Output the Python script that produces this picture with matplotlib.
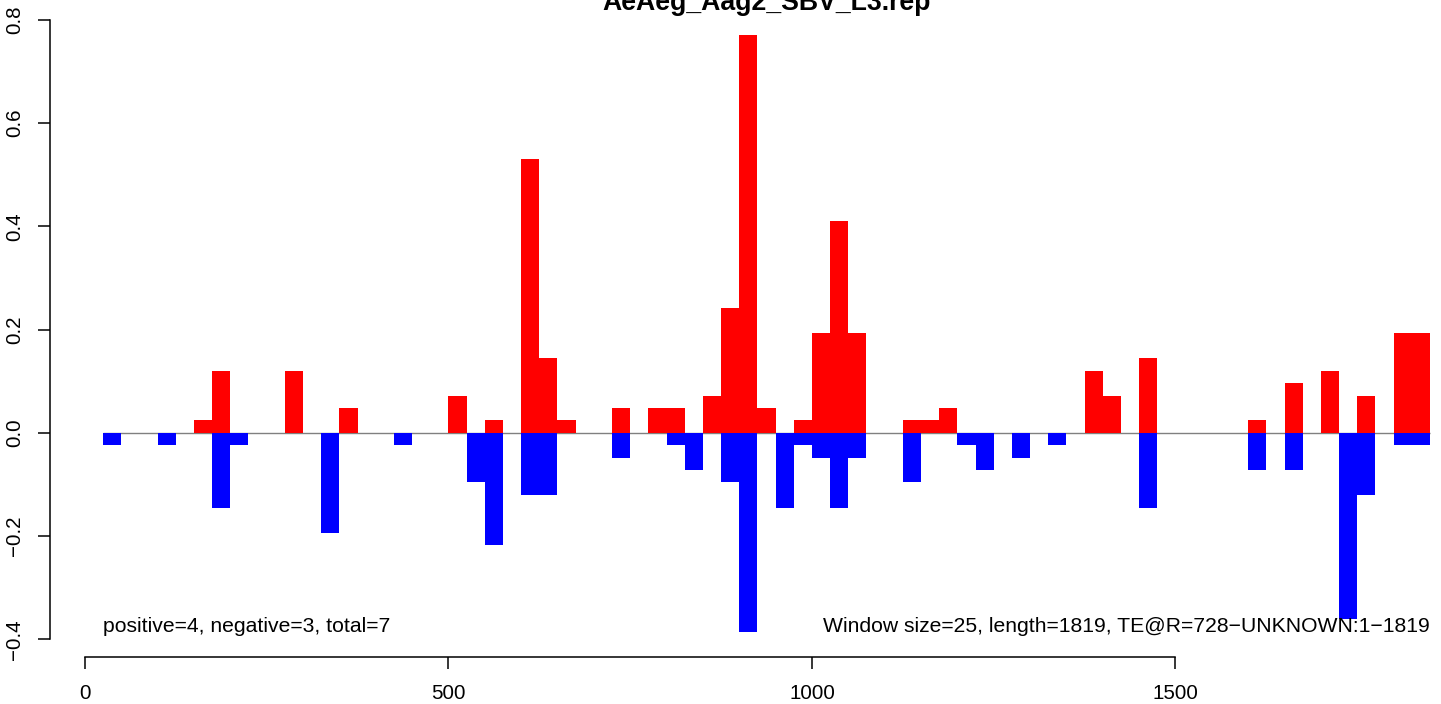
import matplotlib
matplotlib.use("Agg")
import matplotlib.pyplot as plt
import numpy as np

plt.rcParams['font.family'] = ['Liberation Sans', 'DejaVu Sans']

# window data (window size 25, windows numbered 1..73)
window = 25
starts = window * np.arange(1, 74)

positive = [
    0, 0, 0, 0, 0, 0.024, 0.120, 0, 0, 0,
    0.120, 0, 0, 0.048, 0, 0, 0, 0, 0, 0.072,
    0, 0.024, 0, 0.530, 0.145, 0.024, 0, 0, 0.048, 0,
    0.048, 0.048, 0, 0.072, 0.241, 0.771, 0.048, 0, 0.024, 0.193,
    0.410, 0.193, 0, 0, 0.024, 0.024, 0.048, 0, 0, 0,
    0, 0, 0, 0, 0.120, 0.072, 0, 0.145, 0, 0,
    0, 0, 0, 0.024, 0, 0.096, 0, 0.120, 0, 0.072,
    0, 0.193, 0.193,
]
negative = [
    -0.024, 0, 0, -0.024, 0, 0, -0.145, -0.024, 0, 0,
    0, 0, -0.193, 0, 0, 0, -0.024, 0, 0, 0,
    -0.096, -0.217, 0, -0.120, -0.120, 0, 0, 0, -0.048, 0,
    0, -0.024, -0.072, 0, -0.096, -0.386, 0, -0.145, -0.024, -0.048,
    -0.145, -0.048, 0, 0, -0.096, 0, 0, -0.024, -0.072, 0,
    -0.048, 0, -0.024, 0, 0, 0, 0, -0.145, 0, 0,
    0, 0, 0, -0.072, 0, -0.072, 0, 0, -0.361, -0.120,
    0, -0.024, -0.024,
]

title = "AeAeg_Aag2_SBV_L3.rep"
left_note = "positive=4, negative=3, total=7"
right_note = "Window size=25, length=1819, TE@R=728\u2212UNKNOWN:1\u22121819"
xticks = [0, 500, 1000, 1500]
yticks = [-0.4, -0.2, 0.0, 0.2, 0.4, 0.6, 0.8]

fig = plt.figure(figsize=(14.41, 7.04), dpi=100)
# plot region runs past the right/top edge (image was cropped)
ax = fig.add_axes([50 / 1441, 47 / 704, 1433 / 1441, 646 / 704])

ax.hlines(0, starts[0], starts[-1] + window, color='#808080', lw=1, zorder=1)
ax.bar(starts, positive, width=window, align='edge', color='red', linewidth=0, zorder=2)
ax.bar(starts, negative, width=window, align='edge', color='blue', linewidth=0, zorder=2)

ax.set_xlim(-48, 1923)
ax.set_ylim(-0.434, 0.817)

for s in ['top', 'right']:
    ax.spines[s].set_visible(False)
ax.spines['left'].set_bounds(yticks[0], yticks[-1])
ax.spines['bottom'].set_bounds(xticks[0], xticks[-1])
for s in ['left', 'bottom']:
    ax.spines[s].set_linewidth(1.1)

ax.set_xticks(xticks)
ax.set_xticklabels([str(v) for v in xticks])
ax.set_yticks(yticks)
ax.set_yticklabels([f"{v:.1f}".replace('-', '\u2212') for v in yticks],
                   rotation=90, va='center')
ax.tick_params(axis='both', length=8.6, width=1.1, labelsize=14.8)
ax.tick_params(axis='x', pad=11)
ax.tick_params(axis='y', pad=10)

ax.text(starts[0], -0.385, left_note, ha='left', va='baseline', fontsize=15.2)
ax.text(starts[-1] + window, -0.385, right_note, ha='right', va='baseline', fontsize=15.2)

fig.text(766.5 / 1441, 1 - 10 / 704, title, ha='center', va='baseline',
         fontsize=19.2, fontweight='bold')

fig.savefig('out.png', dpi=100)
